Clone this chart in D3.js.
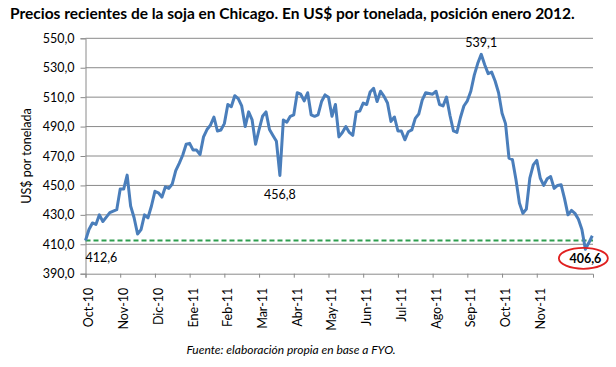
<!DOCTYPE html>
<html>
<head>
<meta charset="utf-8">
<script src="https://cdn.jsdelivr.net/npm/d3@7"></script>
<style>
  body { margin: 0; background: #fff; }
  text { font-family: Lato, "Open Sans", sans-serif; }
</style>
</head>
<body>
<div id="chart"></div>
<script>
// Soja Chicago - precios diarios, posicion enero 2012

const W = 616, H = 367;
const MARGINS = {left: 85.5, right: 23, top: 38.3, bottom: 93.3};

const months = ["Oct-10", "Nov-10", "Dic-10", "Ene-11", "Feb-11", "Mar-11", "Abr-11",
                "May-11", "Jun-11", "Jul-11", "Ago-11", "Sep-11", "Oct-11", "Nov-11"];

// one value every tenth of a month
const prices = [
  412.6, 420, 424.5, 423.5, 430, 425.5, 428.5, 431.5, 432.5, 433.5,
  447.5, 447.5, 457, 436, 428, 417, 420, 430, 428, 436,
  446, 445, 442, 449, 448, 451, 460, 465, 470.5, 478,
  478.6, 474, 474, 471, 483, 488, 491, 496.5, 487, 487.7,
  492, 505, 503.5, 511, 509, 504, 490, 500, 494.5, 478,
  488, 497, 500, 488, 484, 480, 456.8, 494.5, 493, 497,
  498, 513, 512, 507.5, 513, 498, 497, 498, 507, 511.5,
  510, 497, 505, 483, 486, 490, 486, 484, 500, 500.5,
  506, 505, 513.5, 516, 507, 514, 510.5, 506, 493.5, 496.5,
  487, 487, 481, 486.5, 487.7, 495.6, 498.5, 508, 513, 512.5,
  512, 514, 505, 504, 510, 497.5, 487, 486, 496, 504,
  507.5, 514, 525, 533, 539.1, 532, 526, 527, 521, 513,
  499, 492, 468.5, 467.5, 454, 438, 431, 434, 455, 464,
  467, 455, 450, 454.5, 456, 448, 450, 450.5, 441, 430,
  433, 431, 427, 420, 406.6, 411, 415.8
];
const STEP = 0.1;

const yTicks = [390, 410, 430, 450, 470, 490, 510, 530, 550];
const refPrice = 412.6;

// labelled points: index into prices
const notes = [
  {i: 0,   label: "412,6", dx: 0,  dy: 22,  anchor: "start"},
  {i: 56,  label: "456,8", dx: 0,  dy: 24,  anchor: "middle"},
  {i: 114, label: "539,1", dx: 0,  dy: -7,  anchor: "middle"},
];
const minNote = {i: 144, label: "406,6"};

const es = d3.formatLocale({decimal: ",", thousands: ".", grouping: [3], currency: ["US$", ""]});
const fmt = es.format(".1f");

const svg = d3.select("#chart").append("svg")
  .attr("width", W)
  .attr("height", H);

const xSCALE = d3.scaleLinear()
  .domain([0, 14.62])
  .range([MARGINS.left, W - MARGINS.right]);

const ySCALE = d3.scaleLinear()
  .domain([390, 550])
  .range([H - MARGINS.bottom, MARGINS.top]);

// title
svg.append("text")
  .attr("x", 10)
  .attr("y", 19)
  .attr("font-size", "15.5px")
  .attr("font-weight", "bold")
  .attr("fill", "#000")
  .text("Precios recientes de la soja en Chicago. En US$ por tonelada, posición enero 2012.");

// gridlines + y axis
const yAxis = svg.append("g")
  .attr("transform", "translate(" + MARGINS.left + ",0)")
  .call(d3.axisLeft(ySCALE).tickValues(yTicks).tickFormat(fmt).tickSizeOuter(0).tickPadding(6).tickSize(5));
yAxis.select(".domain").attr("stroke", "#8a8a8a");
yAxis.selectAll(".tick line").attr("stroke", "#8a8a8a");
yAxis.selectAll("text").attr("font-size", "12.5px").attr("fill", "#000")
  .style("font-family", "Lato, sans-serif");

svg.append("g")
  .selectAll("line")
  .data(yTicks.filter(d => d > 390))
  .enter()
  .append("line")
  .attr("x1", MARGINS.left)
  .attr("x2", W - MARGINS.right)
  .attr("y1", d => ySCALE(d))
  .attr("y2", d => ySCALE(d))
  .attr("stroke", "#8a8a8a")
  .attr("stroke-width", 1);

// x axis
const xAxis = svg.append("g")
  .attr("transform", "translate(0," + ySCALE(390) + ")")
  .call(d3.axisBottom(xSCALE)
    .tickValues(d3.range(months.length))
    .tickFormat(i => months[i])
    .tickSizeOuter(0)
    .tickSize(4));
xAxis.select(".domain").attr("stroke", "#8a8a8a");
xAxis.selectAll(".tick line").attr("stroke", "#8a8a8a");
xAxis.selectAll("text")
  .attr("font-size", "12.5px")
  .attr("fill", "#000")
  .style("font-family", "Lato, sans-serif")
  .attr("text-anchor", "end")
  .attr("transform", "rotate(-90)")
  .attr("x", -14)
  .attr("y", 3)
  .attr("dy", "0.35em");

// y axis title
svg.append("text")
  .attr("transform", "translate(31," + ySCALE(470) + ") rotate(-90)")
  .attr("text-anchor", "middle")
  .attr("font-size", "12.5px")
  .text("US$ por tonelada");

// reference line
svg.append("line")
  .attr("x1", xSCALE(0))
  .attr("x2", W - MARGINS.right)
  .attr("y1", ySCALE(refPrice))
  .attr("y2", ySCALE(refPrice))
  .attr("stroke", "#2e9e4f")
  .attr("stroke-width", 2)
  .attr("stroke-dasharray", "5,3");

// price line
const line = d3.line()
  .x((d, i) => xSCALE(i * STEP))
  .y(d => ySCALE(d));

svg.append("path")
  .datum(prices)
  .attr("d", line)
  .attr("fill", "none")
  .attr("stroke", "#4a7ebb")
  .attr("stroke-width", 3)
  .attr("stroke-linejoin", "round");

// labels
svg.selectAll(".note")
  .data(notes)
  .enter()
  .append("text")
  .attr("class", "note")
  .attr("x", d => xSCALE(d.i * STEP) + d.dx)
  .attr("y", d => ySCALE(prices[d.i]) + d.dy)
  .attr("text-anchor", d => d.anchor)
  .attr("font-size", "12.5px")
  .text(d => d.label);

const mx = xSCALE(minNote.i * STEP) - 2;
const my = ySCALE(prices[minNote.i]);
svg.append("ellipse")
  .attr("cx", mx)
  .attr("cy", my + 9)
  .attr("rx", 24.5)
  .attr("ry", 10.5)
  .attr("fill", "none")
  .attr("stroke", "#e02020")
  .attr("stroke-width", 1.8);
svg.append("text")
  .attr("x", mx + 2)
  .attr("y", my + 14)
  .attr("text-anchor", "middle")
  .attr("font-size", "12.5px")
  .attr("font-weight", "bold")
  .text(minNote.label);

// source
svg.append("text")
  .attr("x", 291)
  .attr("y", 354)
  .attr("text-anchor", "middle")
  .attr("font-size", "12px")
  .attr("font-style", "italic")
  .text("Fuente: elaboración propia en base a FYO.");
</script>
</body>
</html>
